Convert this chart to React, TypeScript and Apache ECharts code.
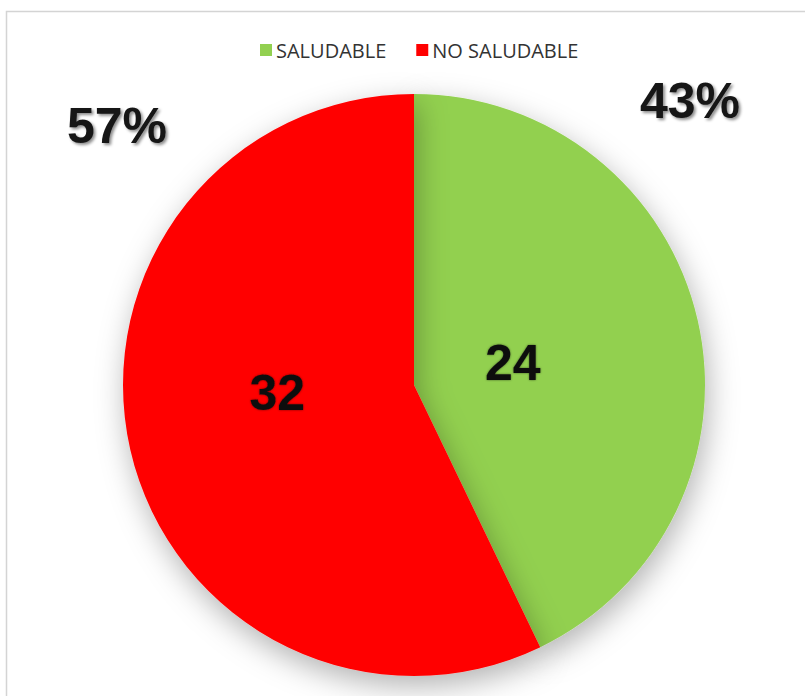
import React, { useEffect, useRef } from "react";
import * as echarts from "echarts";

const categories = ["SALUDABLE", "NO SALUDABLE"];
const values = [24, 32];
const colors = ["#92D050", "#FF0000"];

export default function App() {
  const ref = useRef<HTMLDivElement>(null);
  useEffect(() => {
    if (!ref.current) return;
    const chart = echarts.init(ref.current, null, { renderer: "svg" });
    const total = values.reduce((a, b) => a + b, 0);
    const pct = values.map((v) => Math.round((v / total) * 100) + "%");
    const pctPos = [
      [690, 101],
      [117, 126],
    ];
    const labelShift = [
      [-46, 11],
      [8, -25],
    ];
    chart.setOption({
      animation: false,
      backgroundColor: "#ffffff",
      legend: {
        top: 35,
        left: 255,
        itemWidth: 12,
        itemHeight: 12,
        itemGap: 30,
        icon: "rect",
        textStyle: { fontFamily: "Open Sans", fontSize: 20, color: "#333333", padding: [0, 0, 0, -1] },
        data: categories,
      },
      graphic: [
        {
          type: "rect",
          silent: true,
          shape: { x: 6.5, y: 11.5, width: 830, height: 720 },
          style: { fill: "none", stroke: "#d4d4d4", lineWidth: 1.5 },
        },
        ...pct.map((p, i) => ({
          type: "text",
          silent: true,
          x: pctPos[i][0],
          y: pctPos[i][1],
          style: {
            text: p,
            fontFamily: "Liberation Sans",
            fontWeight: "bold",
            fontSize: 50,
            fill: "#141414",
            align: "center",
            verticalAlign: "middle",
            textShadowColor: "rgba(0,0,0,0.45)",
            textShadowBlur: 3,
            textShadowOffsetX: 2,
            textShadowOffsetY: 2,
          },
        })),
      ],
      series: [
        {
          type: "pie",
          center: [414, 385],
          radius: [0, 291],
          startAngle: 90,
          clockwise: true,
          avoidLabelOverlap: false,
          itemStyle: {
            shadowBlur: 30,
            shadowColor: "rgba(0,0,0,0.3)",
            shadowOffsetX: 3,
            shadowOffsetY: 10,
          },
          label: {
            show: true,
            position: "inside",
            formatter: "{c}",
            fontFamily: "Liberation Sans",
            fontWeight: "bold",
            fontSize: 50,
            color: "#111111",
            textBorderWidth: 0,
            textShadowColor: "rgba(0,0,0,0.5)",
            textShadowBlur: 2,
          },
          labelLine: { show: false },
          emphasis: { disabled: true },
          labelLayout: (params: any) => ({
            dx: labelShift[params.dataIndex][0],
            dy: labelShift[params.dataIndex][1],
          }),
          data: categories.map((name, i) => ({
            name,
            value: values[i],
            itemStyle: { color: colors[i] },
          })),
        },
      ],
    });
    return () => chart.dispose();
  }, []);
  return (
    <div
      ref={ref}
      style={{ position: "fixed", left: 0, top: 0, width: 805, height: 696 }}
    />
  );
}
